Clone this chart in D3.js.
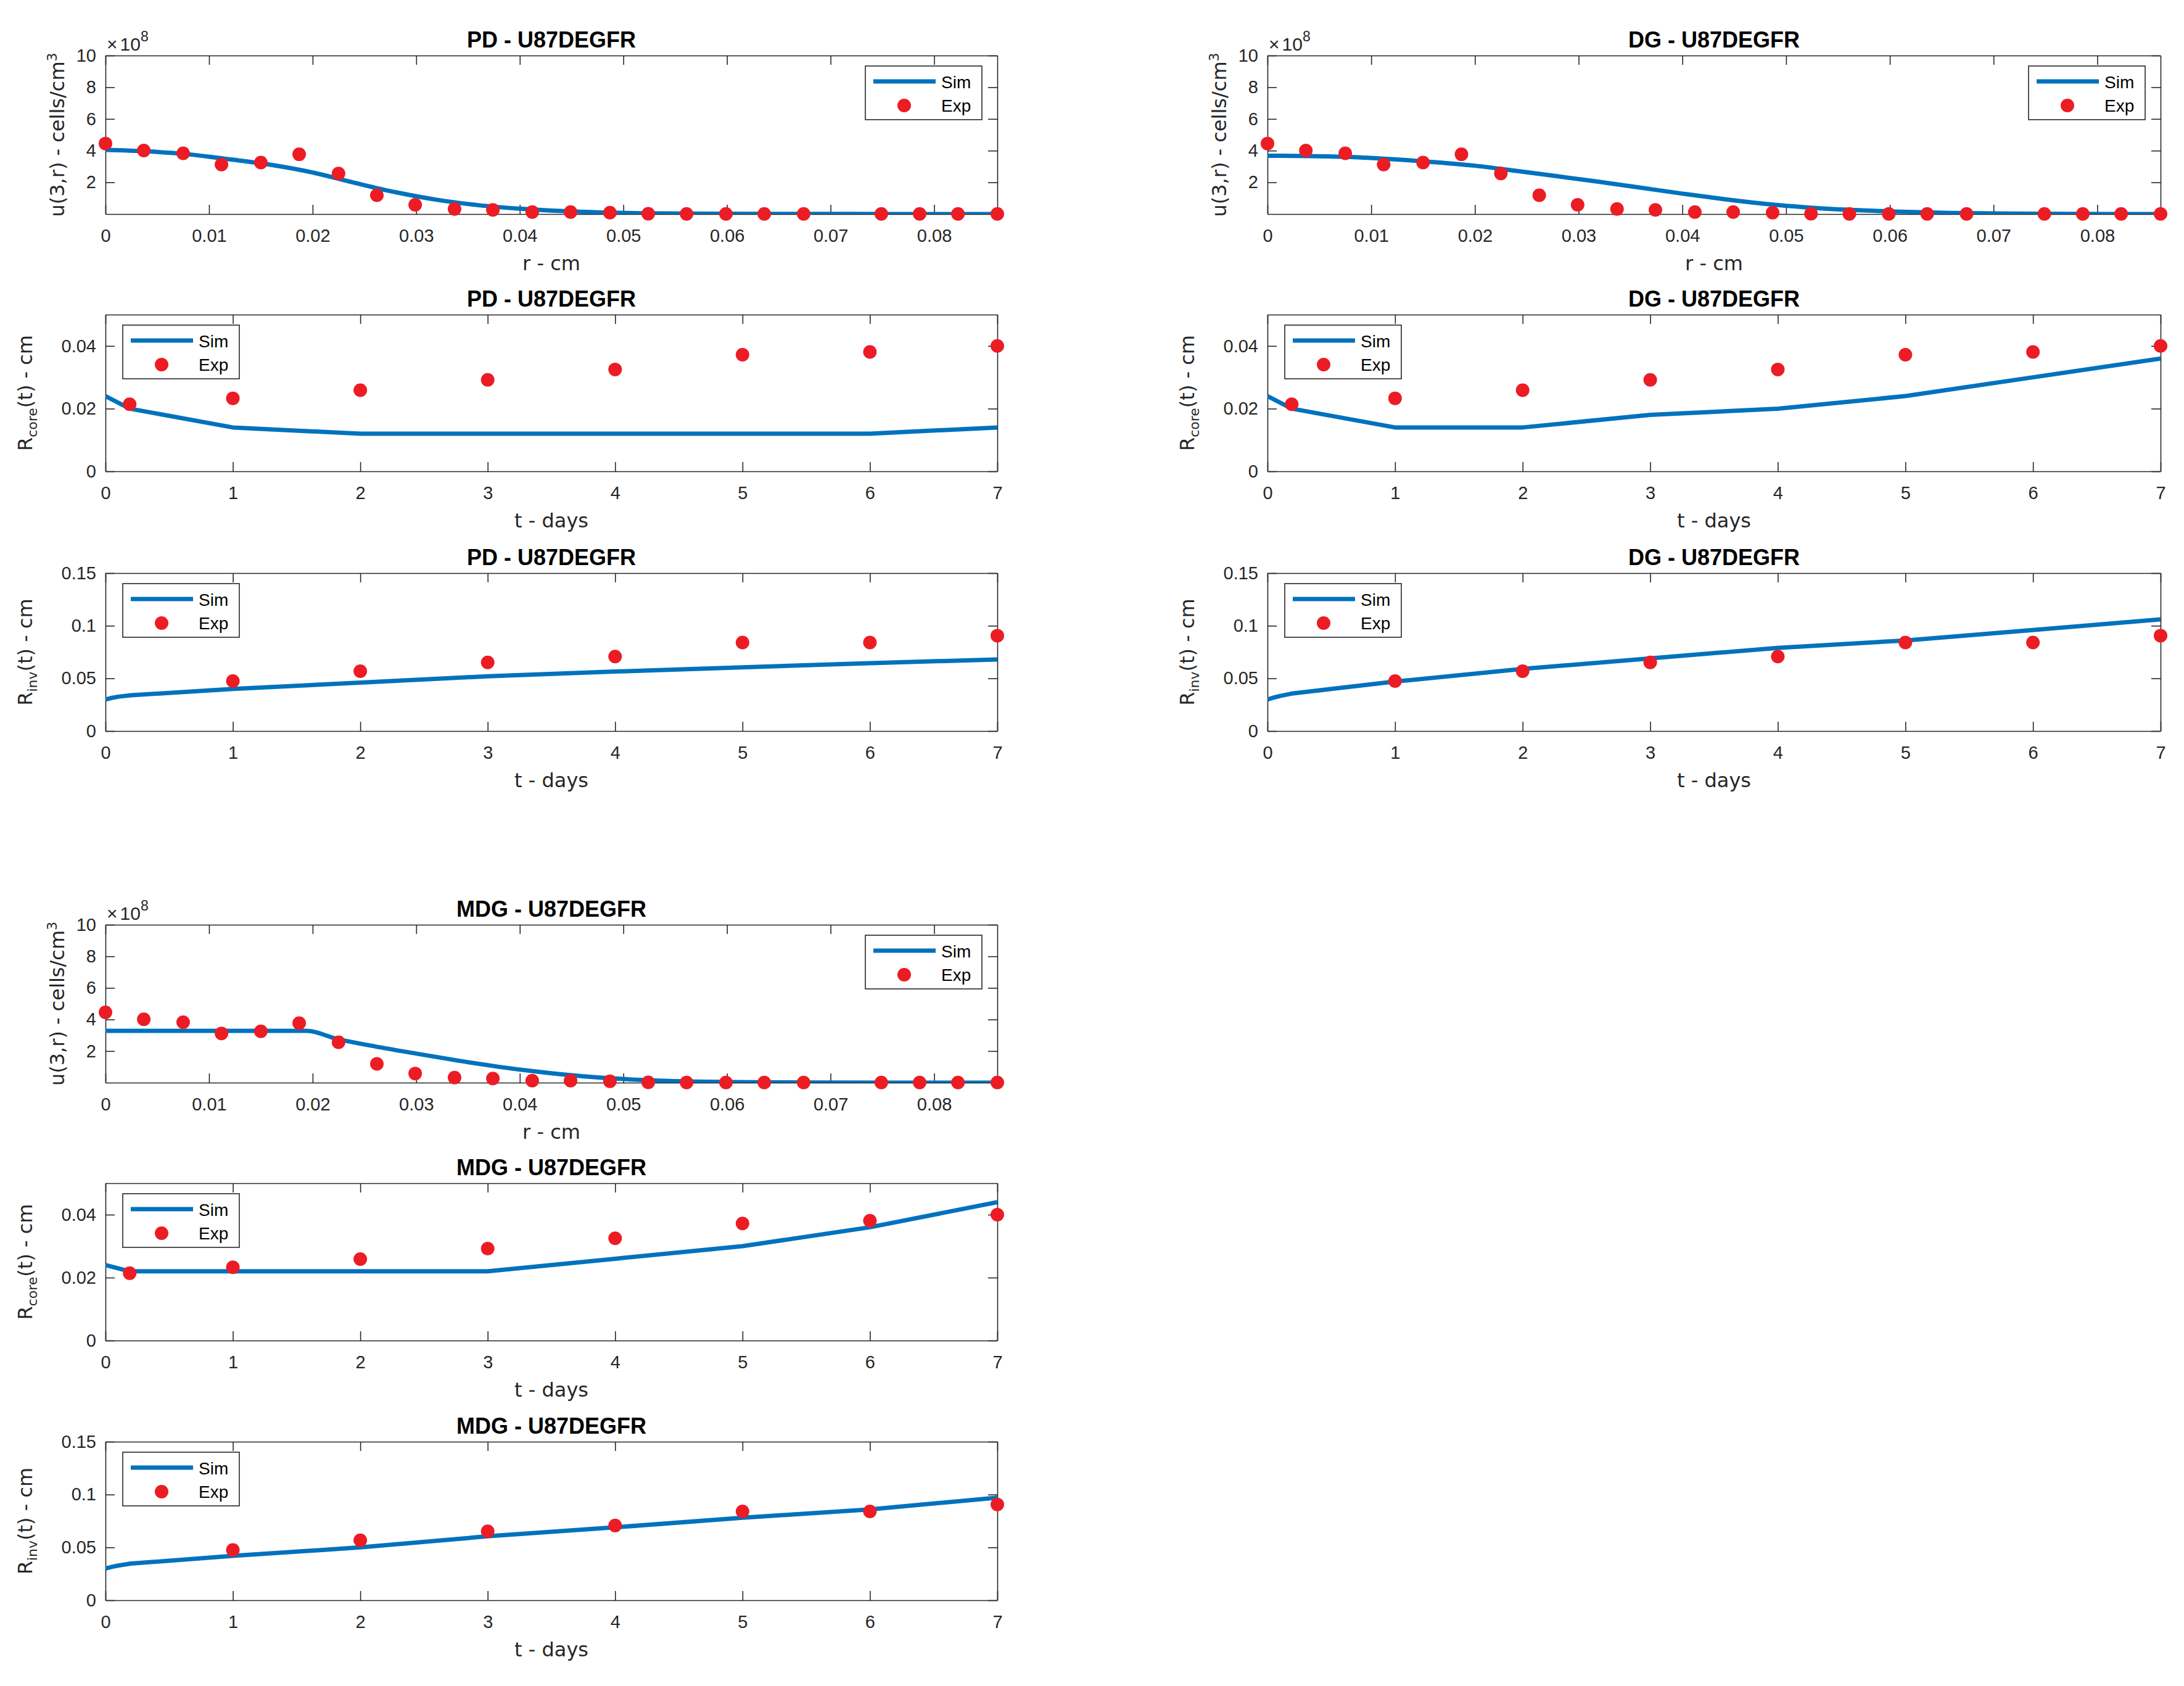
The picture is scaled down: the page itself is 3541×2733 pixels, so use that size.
<!DOCTYPE html>
<html>
<head>
<meta charset="utf-8">
<script src="https://cdn.jsdelivr.net/npm/d3@7"></script>
<style>
  html, body { margin: 0; padding: 0; background: #ffffff; }
  svg { display: block; }
</style>
</head>
<body>
<svg id="chart" width="3541" height="2733"></svg>
<script>
// ---------------- DATA ----------------
// Experimental density profile u(3,r) (x1e8 cells/cm^3), shared by all u panels
const rExp = [0, 0.0037, 0.0075, 0.0112, 0.0150, 0.0187, 0.0225, 0.0262, 0.0299, 0.0337, 0.0374, 0.0412,
              0.0449, 0.0487, 0.0524, 0.0561, 0.0599, 0.0636, 0.0674, 0.0749, 0.0786, 0.0823, 0.0861];
const uExp = [4.45, 4.01, 3.83, 3.12, 3.25, 3.77, 2.56, 1.19, 0.58, 0.32, 0.26, 0.13,
              0.13, 0.09, 0.02, 0.01, 0.01, 0.01, 0.01, 0.01, 0.01, 0.01, 0.01];

// Simulated density profiles
const rSim = [0, 0.004, 0.008, 0.012, 0.016, 0.020, 0.024, 0.028, 0.032, 0.036, 0.040, 0.044,
              0.048, 0.052, 0.056, 0.060, 0.066, 0.072, 0.078, 0.0861];
const uSimPD = [4.05, 3.96, 3.77, 3.45, 3.10, 2.62, 1.98, 1.38, 0.90, 0.56, 0.34, 0.19,
                0.10, 0.05, 0.03, 0.02, 0.01, 0.01, 0.00, 0.00];
const uSimDG = [3.68, 3.66, 3.60, 3.46, 3.28, 3.05, 2.72, 2.38, 2.03, 1.66, 1.29, 0.94,
                0.64, 0.42, 0.27, 0.17, 0.07, 0.03, 0.01, 0.00];
const rSimMDG = [0, 0.0195, 0.0222, 0.026, 0.030, 0.034, 0.038, 0.042, 0.046, 0.050, 0.054, 0.058, 0.062, 0.068, 0.0861];
const uSimMDG = [3.28, 3.28, 2.80, 2.30, 1.84, 1.40, 1.00, 0.67, 0.41, 0.23, 0.12, 0.06, 0.03, 0.01, 0.00];

// Core radius (cm)
const tCoreExp = [0.19, 1, 2, 3, 4, 5, 6, 7];
const coreExp  = [0.0214, 0.0233, 0.0259, 0.0292, 0.0325, 0.0372, 0.0381, 0.0400];
const tCoreSim = [0, 0.19, 1, 2, 3, 4, 5, 6, 7];
const coreSimPD  = [0.024, 0.020, 0.014, 0.012, 0.012, 0.012, 0.012, 0.012, 0.014];
const coreSimDG  = [0.024, 0.020, 0.014, 0.014, 0.018, 0.020, 0.024, 0.030, 0.036];
const coreSimMDG = [0.024, 0.022, 0.022, 0.022, 0.022, 0.026, 0.030, 0.036, 0.044];

// Invasive radius (cm)
const tInvExp = [1, 2, 3, 4, 5, 6, 7];
const invExp  = [0.0475, 0.0568, 0.0652, 0.0707, 0.0841, 0.0841, 0.0906];
const tInvSim = [0, 0.05, 0.1, 0.2, 1, 2, 3, 4, 5, 6, 7];
const invSimPD  = [0.030, 0.0315, 0.0326, 0.0340, 0.040, 0.046, 0.052, 0.0565, 0.0605, 0.0645, 0.068];
const invSimDG  = [0.030, 0.0318, 0.0333, 0.0358, 0.047, 0.059, 0.069, 0.079, 0.086, 0.096, 0.106];
const invSimMDG = [0.030, 0.0316, 0.0328, 0.0347, 0.042, 0.050, 0.0605, 0.069, 0.078, 0.086, 0.097];

// Ticks and labels
const rTicks = [0, 0.01, 0.02, 0.03, 0.04, 0.05, 0.06, 0.07, 0.08];
const rTickLabels = ['0', '0.01', '0.02', '0.03', '0.04', '0.05', '0.06', '0.07', '0.08'];
const uTicks = [2, 4, 6, 8, 10];
const uTickLabels = ['2', '4', '6', '8', '10'];
const tTicks = [0, 1, 2, 3, 4, 5, 6, 7];
const tTickLabels = ['0', '1', '2', '3', '4', '5', '6', '7'];
const coreTicks = [0, 0.02, 0.04];
const coreTickLabels = ['0', '0.02', '0.04'];
const invTicks = [0, 0.05, 0.1, 0.15];
const invTickLabels = ['0', '0.05', '0.1', '0.15'];

const models = ['PD', 'DG', 'MDG'];
const cellLine = 'U87DEGFR';
const legendLabels = ['Sim', 'Exp'];

// ---------------- STYLE / LAYOUT ----------------
const FONT = "'Liberation Sans', Arial, Helvetica, sans-serif";
const LFONT = "'DejaVu Sans', 'Liberation Sans', sans-serif";
const AX = '#262626';
const BLUE = '#0072BD';
const RED = '#EC1C24';

const svg = d3.select('#chart');
svg.append('rect').attr('width', 3541).attr('height', 2733).attr('fill', '#fff');

const cols = { PD: [171, 1617], DG: [2055, 3503], MDG: [171, 1617] };
const rowsTop = [[90, 347], [510, 764], [929, 1185]];
const rowsBottom = [[1499, 1755], [1918, 2173], [2337, 2594]];

let clipCount = 0;

function drawPanel(p) {
  const g = svg.append('g');
  const x = d3.scaleLinear().domain(p.xDomain).range([p.L, p.R]);
  const y = d3.scaleLinear().domain(p.yDomain).range([p.B, p.T]);

  const cid = 'clip' + (clipCount++);
  g.append('clipPath').attr('id', cid).append('rect')
    .attr('x', p.L).attr('y', p.T).attr('width', p.R - p.L).attr('height', p.B - p.T);

  // axes (box with inward ticks)
  const styleAxis = sel => {
    sel.select('.domain').attr('stroke', AX).attr('stroke-width', 1.6);
    sel.selectAll('.tick line').attr('stroke', AX).attr('stroke-width', 1.6);
    sel.selectAll('.tick text').attr('fill', AX).attr('font-family', FONT).attr('font-size', 29);
  };
  g.append('g').attr('transform', `translate(0,${p.B})`)
    .call(d3.axisBottom(x).tickValues(p.xTicks).tickFormat((d, i) => p.xLabels[i])
      .tickSizeInner(-15).tickSizeOuter(0).tickPadding(24))
    .call(styleAxis);
  g.append('g').attr('transform', `translate(0,${p.T})`)
    .call(d3.axisTop(x).tickValues(p.xTicks).tickFormat('').tickSizeInner(-15).tickSizeOuter(0))
    .call(styleAxis);
  g.append('g').attr('transform', `translate(${p.L},0)`)
    .call(d3.axisLeft(y).tickValues(p.yTicks).tickFormat((d, i) => p.yLabels[i])
      .tickSizeInner(-15).tickSizeOuter(0).tickPadding(15))
    .call(styleAxis);
  g.append('g').attr('transform', `translate(${p.R},0)`)
    .call(d3.axisRight(y).tickValues(p.yTicks).tickFormat('').tickSizeInner(-15).tickSizeOuter(0))
    .call(styleAxis);

  // simulation line
  const line = d3.line().x(d => x(d[0])).y(d => y(d[1])).curve(p.curve || d3.curveLinear);
  g.append('path')
    .datum(p.simX.map((v, i) => [v, p.simY[i]]))
    .attr('d', line)
    .attr('fill', 'none').attr('stroke', BLUE).attr('stroke-width', 7)
    .attr('stroke-linejoin', 'round')
    .attr('clip-path', `url(#${cid})`);

  // experimental markers
  g.selectAll('circle.exp')
    .data(p.expX.map((v, i) => [v, p.expY[i]]))
    .join('circle').attr('class', 'exp')
    .attr('cx', d => x(d[0])).attr('cy', d => y(d[1])).attr('r', 11).attr('fill', RED);

  // title
  g.append('text').attr('x', (p.L + p.R) / 2).attr('y', p.T - 13)
    .attr('text-anchor', 'middle').attr('font-family', FONT).attr('font-weight', 'bold')
    .attr('font-size', 36).attr('fill', '#000').text(p.title);

  // x label
  g.append('text').attr('x', (p.L + p.R) / 2).attr('y', p.B + 91)
    .attr('text-anchor', 'middle').attr('font-family', LFONT).attr('font-size', 32)
    .attr('fill', AX).text(p.xLabel);

  // y label
  const yl = g.append('text')
    .attr('transform', `translate(${p.L + p.yLabelDx},${(p.T + p.B) / 2}) rotate(-90)`)
    .attr('text-anchor', 'middle').attr('font-family', LFONT).attr('font-size', 32).attr('fill', AX);
  p.yLabelParts.forEach(part => {
    const ts = yl.append('tspan').text(part.t);
    if (part.small) ts.attr('font-size', 22);
    if (part.dy) ts.attr('dy', part.dy);
  });

  // exponent
  if (p.exponent) {
    const et = g.append('text').attr('x', p.L + 2).attr('y', p.T - 8)
      .attr('font-family', FONT).attr('font-size', 30).attr('fill', AX);
    et.append('tspan').text('\u00D7');
    et.append('tspan').attr('dx', 4).text('10');
    et.append('tspan').attr('font-size', 23).attr('dy', -15).text(p.exponent);
  }

  // legend
  const LW = 189, LH = 87;
  const bx = p.legendPos === 'NE' ? p.R - 25 - LW : p.L + 28;
  const by = p.T + 17;
  g.append('rect').attr('x', bx).attr('y', by).attr('width', LW).attr('height', LH)
    .attr('fill', '#fff').attr('stroke', AX).attr('stroke-width', 1.6);
  g.append('line').attr('x1', bx + 13).attr('x2', bx + 114).attr('y1', by + 25).attr('y2', by + 25)
    .attr('stroke', BLUE).attr('stroke-width', 7);
  g.append('circle').attr('cx', bx + 63).attr('cy', by + 64).attr('r', 11).attr('fill', RED);
  g.append('text').attr('x', bx + 123).attr('y', by + 36).attr('font-family', FONT)
    .attr('font-size', 28).attr('fill', '#000').text(legendLabels[0]);
  g.append('text').attr('x', bx + 123).attr('y', by + 74).attr('font-family', FONT)
    .attr('font-size', 28).attr('fill', '#000').text(legendLabels[1]);
}

const uLabelParts = [{ t: 'u(3,r) - cells/cm' }, { t: '3', small: true, dy: -12 }];
const coreLabelParts = [{ t: 'R' }, { t: 'core', small: true, dy: 8 }, { t: '(t) - cm', dy: -8 }];
const invLabelParts = [{ t: 'R' }, { t: 'inv', small: true, dy: 8 }, { t: '(t) - cm', dy: -8 }];

const uSims = { PD: [rSim, uSimPD], DG: [rSim, uSimDG], MDG: [rSimMDG, uSimMDG] };
const coreSims = { PD: coreSimPD, DG: coreSimDG, MDG: coreSimMDG };
const invSims = { PD: invSimPD, DG: invSimDG, MDG: invSimMDG };

models.forEach(m => {
  const [L, R] = cols[m];
  const rows = m === 'MDG' ? rowsBottom : rowsTop;
  const title = `${m} - ${cellLine}`;
  drawPanel({
    L, R, T: rows[0][0], B: rows[0][1], title,
    xDomain: [0, 0.0861], yDomain: [0, 10],
    xTicks: rTicks, xLabels: rTickLabels, yTicks: uTicks, yLabels: uTickLabels,
    simX: uSims[m][0], simY: uSims[m][1], expX: rExp, expY: uExp,
    curve: d3.curveMonotoneX, xLabel: 'r - cm', yLabelParts: uLabelParts, yLabelDx: -67,
    exponent: '8', legendPos: 'NE'
  });
  drawPanel({
    L, R, T: rows[1][0], B: rows[1][1], title,
    xDomain: [0, 7], yDomain: [0, 0.05],
    xTicks: tTicks, xLabels: tTickLabels, yTicks: coreTicks, yLabels: coreTickLabels,
    simX: tCoreSim, simY: coreSims[m], expX: tCoreExp, expY: coreExp,
    xLabel: 't - days', yLabelParts: coreLabelParts, yLabelDx: -119,
    legendPos: 'NW'
  });
  drawPanel({
    L, R, T: rows[2][0], B: rows[2][1], title,
    xDomain: [0, 7], yDomain: [0, 0.15],
    xTicks: tTicks, xLabels: tTickLabels, yTicks: invTicks, yLabels: invTickLabels,
    simX: tInvSim, simY: invSims[m], expX: tInvExp, expY: invExp,
    curve: d3.curveLinear, xLabel: 't - days', yLabelParts: invLabelParts, yLabelDx: -119,
    legendPos: 'NW'
  });
});
</script>
</body>
</html>
